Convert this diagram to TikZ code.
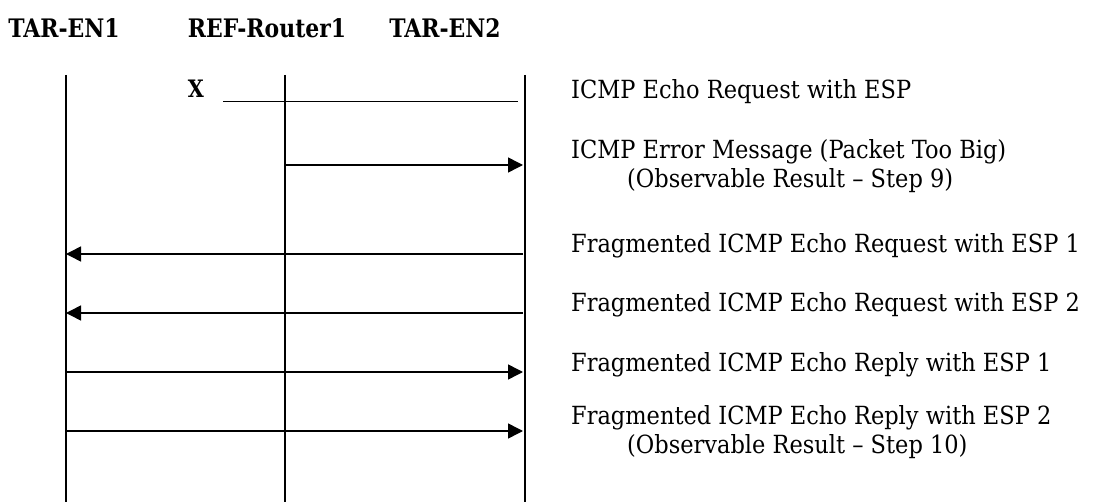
\documentclass[tikz,border=0pt]{standalone}
\usepackage{fontspec}
\setmainfont{DejaVu Serif}[FakeStretch=0.9]
\newfontfamily\headfont{DejaVu Serif}[FakeStretch=0.86]
\usetikzlibrary{arrows.meta}
\begin{document}
\begin{tikzpicture}[x=1pt,y=-1pt,
  lifeline/.style={line width=1.5pt},
  msg/.style={line width=1.5pt,-{Triangle[length=15pt,width=15pt]}},
  blocked/.style={line width=1.5pt},
  head/.style={font=\headfont\bfseries\fontsize{25.5}{30}\selectfont,anchor=base,inner sep=0pt},
  mark x/.style={font=\headfont\bfseries\fontsize{24}{28}\selectfont,anchor=base,inner sep=0pt},
  msglabel/.style={font=\fontsize{25}{30}\selectfont,anchor=base west,inner sep=0pt}]
\useasboundingbox (0,0) rectangle (1116,502);

% entity headers
\node[head] (en1) at (64,38) {TAR-EN1};
\node[head] (rtr) at (267,38) {REF-Router1};
\node[head] (en2) at (445,38) {TAR-EN2};

% lifelines
\coordinate (en1top) at (66,75);   \coordinate (en1bot) at (66,502);
\coordinate (rtrtop) at (285,75);  \coordinate (rtrbot) at (285,502);
\coordinate (en2top) at (525,75);  \coordinate (en2bot) at (525,502);
\draw[lifeline] (en1top) -- (en1bot);
\draw[lifeline] (rtrtop) -- (rtrbot);
\draw[lifeline] (en2top) -- (en2bot);

% 1: echo request, dropped
\node[mark x] (drop) at (196,98) {X};
\coordinate (m1a) at (223,101.5); \coordinate (m1b) at (518,101.5);
\draw[blocked] (m1a) -- (m1b);
\node[msglabel] (t1) at (571,99) {ICMP Echo Request with ESP};

% 2: packet too big from the router
\coordinate (m2a) at (285,165); \coordinate (m2b) at (523,165);
\draw[msg] (m2a) -- (m2b);
\node[msglabel] (t2) at (571,159) {ICMP Error Message (Packet Too Big)};
\node[msglabel] (t2b) at (627,188) {(Observable Result – Step 9)};

% 3, 4: fragmented requests
\coordinate (m3a) at (523,254); \coordinate (m3b) at (66,254);
\draw[msg] (m3a) -- (m3b);
\node[msglabel] (t3) at (571,253) {Fragmented ICMP Echo Request with ESP 1};
\coordinate (m4a) at (523,313); \coordinate (m4b) at (66,313);
\draw[msg] (m4a) -- (m4b);
\node[msglabel] (t4) at (571,312) {Fragmented ICMP Echo Request with ESP 2};

% 5, 6: fragmented replies
\coordinate (m5a) at (66,372); \coordinate (m5b) at (523,372);
\draw[msg] (m5a) -- (m5b);
\node[msglabel] (t5) at (571,371) {Fragmented ICMP Echo Reply with ESP 1};
\coordinate (m6a) at (66,431); \coordinate (m6b) at (523,431);
\draw[msg] (m6a) -- (m6b);
\node[msglabel] (t6) at (571,424) {Fragmented ICMP Echo Reply with ESP 2};
\node[msglabel] (t6b) at (627,453) {(Observable Result – Step 10)};
\end{tikzpicture}
\end{document}
